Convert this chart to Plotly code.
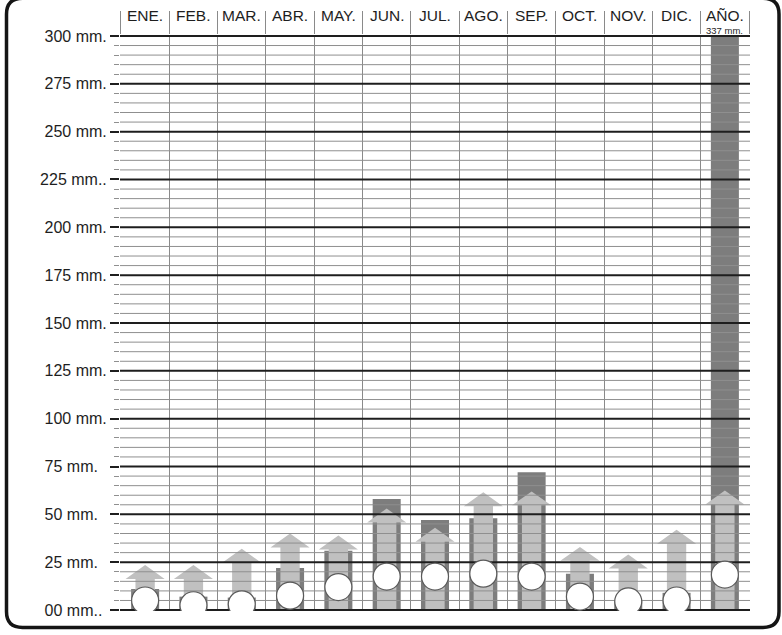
import plotly.graph_objects as go

# Climograma: precipitación (barra oscura), flecha (gris claro) y círculo
meses = ["ENE.", "FEB.", "MAR.", "ABR.", "MAY.", "JUN.", "JUL.",
         "AGO.", "SEP.", "OCT.", "NOV.", "DIC.", "AÑO."]
precipitacion = [11, 7, 6.5, 22, 31, 58, 47, 48, 72, 19, 5, 9, 337]
flechas = [23.5, 23.5, 32, 40, 39, 53, 43, 61.5, 62, 33, 29, 42, 62.5]
circulos = [5, 2.5, 3, 7.5, 12, 17.5, 17.5, 19, 17.5, 7, 4.5, 5, 18.5]
texto_anual = "337 mm."

y_ticks = list(range(0, 301, 25))
y_labels = ["00 mm..\u00a0", "25 mm.\u00a0\u00a0", "50 mm.\u00a0\u00a0", "75 mm.\u00a0\u00a0",
            "100 mm.", "125 mm.", "150 mm.", "175 mm.", "200 mm.", "225 mm..",
            "250 mm.", "275 mm.", "300 mm."]

FONT = "Liberation Sans, Arial, sans-serif"
W, H = 782, 635
L, R, T, B = 120, 32, 31, 24
idx = list(range(len(meses)))

fig = go.Figure()

# barras de precipitación
fig.add_trace(go.Bar(
    x=idx, y=precipitacion, width=0.58,
    marker=dict(color="#7d7d7d", line=dict(width=0)),
    hoverinfo="skip",
))

# flechas (cuerpo + punta) como polígonos
SH, HW, HH = 0.2, 0.405, 7.3
ax, ay = [], []
for i, v in zip(idx, flechas):
    ax += [i - SH, i - SH, i - HW, i, i + HW, i + SH, i + SH, i - SH, None]
    ay += [0, v - HH, v - HH, v, v - HH, v - HH, 0, 0, None]
fig.add_trace(go.Scatter(
    x=ax, y=ay, mode="lines", fill="toself", fillcolor="#c0c0c0",
    line=dict(width=0, color="#c0c0c0"), hoverinfo="skip",
))

# líneas horizontales (encima de barras, debajo de círculos)
gx_min, gy_min, gx_maj, gy_maj = [], [], [], []
for y in range(0, 301, 5):
    if y % 25:
        gx_min += [-0.6, 12.6, None]
        gy_min += [y, y, None]
    else:
        gx_maj += [-0.6, 12.6, None]
        gy_maj += [y, y, None]
fig.add_trace(go.Scatter(x=gx_min, y=gy_min, mode="lines",
                         line=dict(color="#8f8f8f", width=1), hoverinfo="skip"))
fig.add_trace(go.Scatter(x=gx_maj, y=gy_maj, mode="lines",
                         line=dict(color="#1e1e1e", width=2), hoverinfo="skip"))

# círculos
fig.add_trace(go.Scatter(
    x=idx, y=circulos, mode="markers",
    marker=dict(size=27, color="white", line=dict(color="#5a5a5a", width=1.2)),
    hoverinfo="skip",
))

# etiquetas de columnas
annotations = []
for i, m in enumerate(meses):
    annotations.append(dict(
        x=i, y=1 + 19.5 / 580, xref="x", yref="paper", text=m, showarrow=False,
        xanchor="center", yanchor="middle",
        font=dict(family=FONT, size=15.5, color="#1e1e1e"),
    ))
annotations.append(dict(
    x=12, y=1 + 4.5 / 580, xref="x", yref="paper", text=texto_anual, showarrow=False,
    xanchor="center", yanchor="middle",
    font=dict(family=FONT, size=9.5, color="#1e1e1e"),
))


# marco redondeado
def px(x):
    return (x - L) / (W - L - R)


def py(y):
    return (H - B - y) / (H - T - B)


fl, fr, ft, fb, rr = 6.5, 779, -6, 627.5, 16
path = (
    f"M {px(fl + rr)},{py(ft)} L {px(fr - rr)},{py(ft)} "
    f"Q {px(fr)},{py(ft)} {px(fr)},{py(ft + rr)} L {px(fr)},{py(fb - rr)} "
    f"Q {px(fr)},{py(fb)} {px(fr - rr)},{py(fb)} L {px(fl + rr)},{py(fb)} "
    f"Q {px(fl)},{py(fb)} {px(fl)},{py(fb - rr)} L {px(fl)},{py(ft + rr)} "
    f"Q {px(fl)},{py(ft)} {px(fl + rr)},{py(ft)} Z"
)

fig.update_layout(
    width=W, height=H,
    margin=dict(l=L, r=R, t=T, b=B, pad=0),
    paper_bgcolor="white", plot_bgcolor="white",
    showlegend=False,
    annotations=annotations,
    shapes=[dict(type="path", xref="paper", yref="paper", path=path,
                 line=dict(color="#151515", width=3.5))],
    xaxis=dict(
        range=[-0.52, 12.52], side="top",
        tickmode="array", tickvals=[i - 0.5 for i in range(14)],
        showticklabels=False, ticks="outside", ticklen=23,
        tickcolor="#8a8a8a", tickwidth=1,
        showgrid=True, gridcolor="#8a8a8a", gridwidth=1,
        zeroline=False, showline=False, fixedrange=True,
    ),
    yaxis=dict(
        range=[-0.5, 300.5],
        tickmode="array", tickvals=y_ticks, ticktext=y_labels,
        ticks="outside", ticklen=9, tickwidth=2, tickcolor="#1e1e1e",
        tickfont=dict(family=FONT, size=16, color="#1e1e1e"),
        minor=dict(tick0=0, dtick=5, ticks="outside", ticklen=5,
                   tickcolor="#8f8f8f", tickwidth=1, showgrid=False),
        showgrid=False, zeroline=False, showline=False, fixedrange=True,
    ),
)

fig.write_html("out.html", config={"displayModeBar": False},
               post_script="document.body.style.margin='0';")
